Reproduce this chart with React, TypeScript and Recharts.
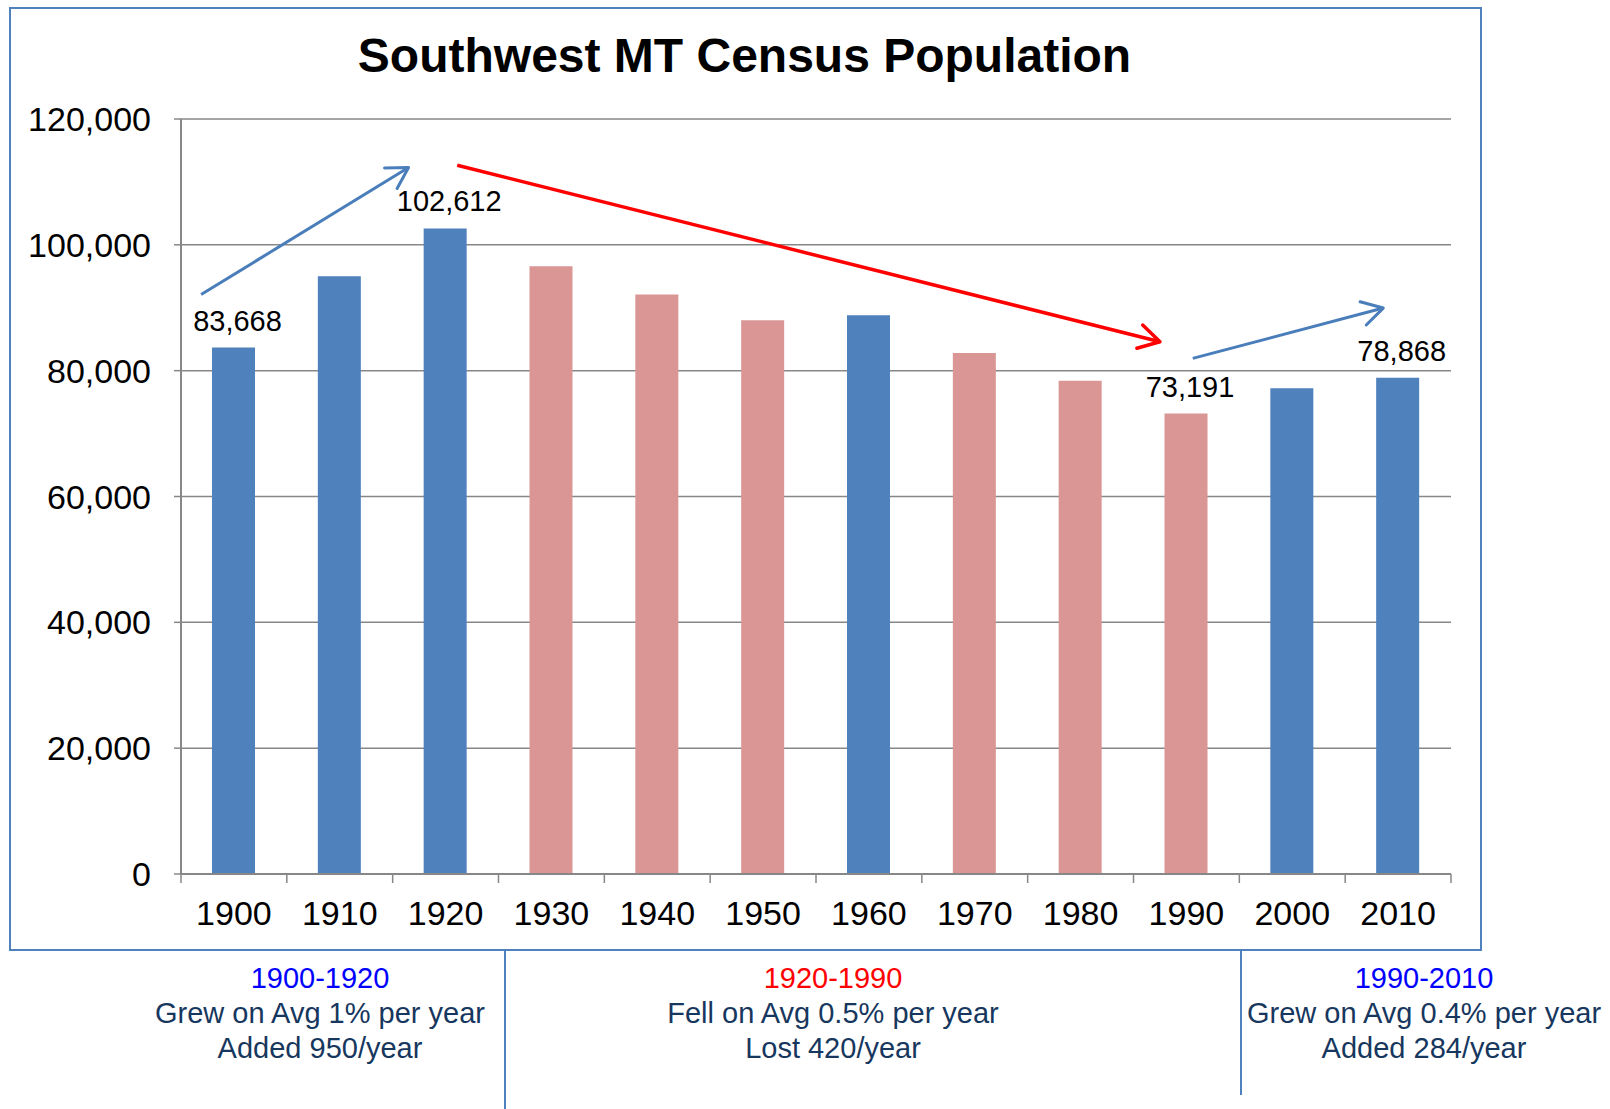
import { BarChart, Bar, XAxis, YAxis, CartesianGrid, Cell, LabelList, ReferenceLine } from "recharts";

const years = ["1900", "1910", "1920", "1930", "1940", "1950", "1960", "1970", "1980", "1990", "2000", "2010"];
const population = [83668, 95000, 102612, 96600, 92100, 88000, 88800, 82800, 78400, 73191, 77200, 78868];
const direction = ["up", "up", "up", "down", "down", "down", "up", "down", "down", "down", "up", "up"];
const labelledYears = ["1900", "1920", "1990", "2010"];
const yTicks = [0, 20000, 40000, 60000, 80000, 100000, 120000];

// arrow endpoints: x in category slots (0 = left edge of 1900), y in people
const arrows = [
  { kind: "up", from: [0.19, 92100], to: [2.15, 112300] },
  { kind: "down", from: [2.61, 112650], to: [9.25, 84600] },
  { kind: "up", from: [9.56, 81950], to: [11.36, 89950] },
];

const periods = ["1900-1920", "1920-1990", "1990-2010"];
const periodKind = ["up", "down", "up"];
const periodRates = ["Grew on Avg 1% per year", "Fell on Avg 0.5% per year", "Grew on Avg 0.4% per year"];
const periodTotals = ["Added 950/year", "Lost 420/year", "Added 284/year"];

const BAR = { up: "#4F81BD", down: "#D99694" };
const ARROW = { up: "#4A7EBB", down: "#FF0000" };
const PERIOD = { up: "#0000FF", down: "#FF0000" };
const FRAME = "#4F81BD";
const GRID = "#878787";
const FONT = "'Liberation Sans', Arial, sans-serif";

const rows = years.map((year, i) => ({
  year,
  slot: i + 0.5,
  value: population[i],
  label: labelledYears.includes(year) ? population[i].toLocaleString("en-US") : "",
}));

function ValueLabel(props: any) {
  const { x, y, width, value } = props;
  if (!value) return null;
  return (
    <text x={Number(x) + Number(width) / 2 + 4} y={Number(y) - 27} textAnchor="middle" dominantBaseline="central" fontSize={29} fontFamily={FONT} fill="#000">
      {value}
    </text>
  );
}

function YearTick(props: any) {
  const { x, y, payload, index, visibleTicksCount, width } = props;
  const count = visibleTicksCount || years.length;
  const band = (Number(width) || 1270) / count;
  const left = x - band / 2;
  return (
    <g>
      <line x1={left} y1={y} x2={left} y2={y + 9} stroke={GRID} strokeWidth={1.5} />
      {index === count - 1 && <line x1={left + band} y1={y} x2={left + band} y2={y + 9} stroke={GRID} strokeWidth={1.5} />}
      <text x={x} y={y + 27} dy="0.71em" textAnchor="middle" fontSize={34} fontFamily={FONT} fill="#000">
        {payload.value}
      </text>
    </g>
  );
}

function arrowShape(color: string, width: number) {
  return (p: any) => {
    const { x1, y1, x2, y2 } = p;
    const a = Math.atan2(y2 - y1, x2 - x1);
    const len = 24;
    const spread = Math.PI / 6;
    const h1 = [x2 - len * Math.cos(a - spread), y2 - len * Math.sin(a - spread)];
    const h2 = [x2 - len * Math.cos(a + spread), y2 - len * Math.sin(a + spread)];
    return (
      <g>
        <line x1={x1} y1={y1} x2={x2} y2={y2} stroke={color} strokeWidth={width} />
        <polyline points={`${h1[0]},${h1[1]} ${x2},${y2} ${h2[0]},${h2[1]}`} fill="none" stroke={color} strokeWidth={width} strokeLinecap="round" strokeLinejoin="round" />
      </g>
    );
  };
}

const centers = [320, 833, 1424];

export default function App() {
  return (
    <div style={{ position: "absolute", left: 0, top: 0, width: 1610, height: 1109, background: "#fff", fontFamily: FONT }}>
      <div style={{ position: "absolute", left: 9, top: 7, width: 1473, height: 944, border: `2px solid ${FRAME}`, boxSizing: "border-box" }} />
      <div style={{ position: "absolute", left: 0, top: 26, width: 1489, textAlign: "center", fontSize: 48, fontWeight: 700, lineHeight: "60px", color: "#000" }}>
        Southwest MT Census Population
      </div>
      <BarChart
        width={1490}
        height={960}
        data={rows}
        margin={{ top: 119, right: 39, left: 81, bottom: 26 }}
        style={{ position: "absolute", left: 0, top: 0 }}
        barSize={43}
      >
        <CartesianGrid stroke={GRID} strokeWidth={1.5} vertical={false} />
        <XAxis dataKey="year" tickLine={false} tickSize={0} tickMargin={0} axisLine={{ stroke: GRID, strokeWidth: 2 }} height={60} interval={0} tick={YearTick} />
        <XAxis xAxisId="n" dataKey="slot" type="number" domain={[0, years.length]} allowDataOverflow hide />
        <YAxis
          domain={[0, 120000]}
          ticks={yTicks}
          interval={0}
          width={100}
          tickSize={7}
          tickMargin={23}
          axisLine={{ stroke: GRID, strokeWidth: 2 }}
          tickLine={{ stroke: GRID, strokeWidth: 1.5 }}
          tick={{ fontSize: 34, fill: "#000", fontFamily: FONT }}
          tickFormatter={(v: number) => v.toLocaleString("en-US")}
        />
        <Bar dataKey="value" isAnimationActive={false}>
          {rows.map((_, i) => (
            <Cell key={i} fill={BAR[direction[i] as "up" | "down"]} />
          ))}
          <LabelList dataKey="label" content={ValueLabel} />
        </Bar>
        {arrows.map((a, i) => (
          <ReferenceLine
            key={i}
            xAxisId="n"
            ifOverflow="visible"
            segment={[{ x: a.from[0], y: a.from[1] }, { x: a.to[0], y: a.to[1] }]}
            shape={arrowShape(ARROW[a.kind as "up" | "down"], a.kind === "up" ? 3 : 3.5)}
          />
        ))}
      </BarChart>
      <div style={{ position: "absolute", left: 504, top: 949, width: 2, height: 160, background: FRAME }} />
      <div style={{ position: "absolute", left: 1240, top: 949, width: 2, height: 146, background: FRAME }} />
      {periods.map((p, i) => (
        <div key={p} style={{ position: "absolute", left: centers[i] - 250, top: 961, width: 500, textAlign: "center", fontSize: 29, lineHeight: "35px" }}>
          <div style={{ color: PERIOD[periodKind[i] as "up" | "down"] }}>{p}</div>
          <div style={{ color: "#17375E" }}>{periodRates[i]}</div>
          <div style={{ color: "#17375E" }}>{periodTotals[i]}</div>
        </div>
      ))}
    </div>
  );
}
